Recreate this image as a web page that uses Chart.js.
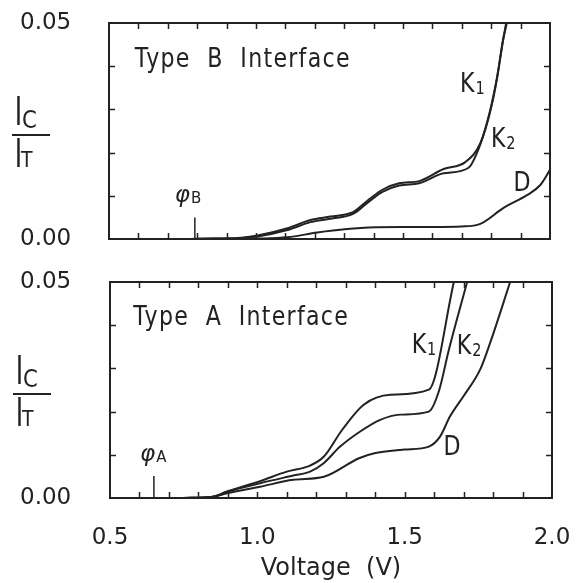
<!DOCTYPE html>
<html><head><meta charset="utf-8">
<script src="https://cdn.jsdelivr.net/npm/chart.js@4.4.0/dist/chart.umd.min.js"></script>
<style>
html,body{margin:0;padding:0;background:#fff;}
#wrap{position:relative;width:584px;height:583px;overflow:hidden;background:#fff;}
canvas{position:absolute;left:0;}
</style></head><body>
<div id="wrap">
<canvas id="cB" width="584" height="262" style="top:0px"></canvas>
<canvas id="cA" width="584" height="321" style="top:262px"></canvas>
</div>
<script>
// ---------- data ----------
const xTickStep = 0.1;
const yTickStep = 0.01;
const xLabelValues = [0.5, 1.0, 1.5, 2.0];
const yLabelValues = [0.00, 0.05];

// Type B interface (upper panel)
const typeB_K1_V = [0.78, 0.86, 0.95, 1.005, 1.107, 1.185, 1.253, 1.33, 1.378, 1.43, 1.487, 1.555, 1.638, 1.712, 1.763, 1.797, 1.82, 1.84, 1.851];
const typeB_K1_Y = [0.0, 0.0001, 0.0003, 0.0008, 0.0025, 0.0044, 0.0052, 0.0062, 0.0088, 0.0114, 0.0129, 0.0134, 0.0162, 0.0178, 0.0222, 0.0299, 0.0375, 0.046, 0.05];
const typeB_K2_V = [0.78, 0.86, 0.95, 1.005, 1.107, 1.185, 1.253, 1.33, 1.378, 1.43, 1.487, 1.555, 1.638, 1.723, 1.763, 1.797, 1.82, 1.84, 1.853];
const typeB_K2_Y = [0.0, 0.0001, 0.0002, 0.0006, 0.0021, 0.0039, 0.0047, 0.0058, 0.0083, 0.0109, 0.0124, 0.0129, 0.0152, 0.0165, 0.0219, 0.0296, 0.0372, 0.0458, 0.05];
const typeB_D_V = [0.9, 1.0, 1.107, 1.208, 1.31, 1.41, 1.5, 1.6, 1.7, 1.763, 1.842, 1.923, 1.967, 2.0];
const typeB_D_Y = [0.0, 0.0001, 0.0004, 0.0015, 0.0023, 0.0027, 0.0028, 0.0028, 0.0029, 0.0035, 0.0072, 0.0102, 0.0125, 0.016];
const phiB_V = [0.792, 0.792];
const phiB_Y = [0.0, 0.005];

// Type A interface (lower panel)
const typeA_K1_V = [0.75, 0.85, 0.897, 1.009, 1.1, 1.179, 1.226, 1.288, 1.361, 1.452, 1.582, 1.667];
const typeA_K1_Y = [0.0, 0.0003, 0.0015, 0.0039, 0.0061, 0.0075, 0.0096, 0.0158, 0.0216, 0.0239, 0.0251, 0.05];
const typeA_K2_V = [0.75, 0.85, 0.897, 1.009, 1.122, 1.179, 1.224, 1.281, 1.349, 1.417, 1.485, 1.582, 1.616, 1.65, 1.712];
const typeA_K2_Y = [0.0, 0.0003, 0.0014, 0.0034, 0.0052, 0.0061, 0.008, 0.0119, 0.0154, 0.0181, 0.0193, 0.02, 0.0247, 0.0343, 0.05];
const typeA_D_V = [0.75, 0.85, 0.897, 1.009, 1.122, 1.226, 1.345, 1.401, 1.5, 1.582, 1.62, 1.654, 1.699, 1.756, 1.79, 1.858];
const typeA_D_Y = [0.0, 0.0003, 0.0011, 0.0026, 0.0042, 0.0049, 0.0092, 0.0104, 0.0112, 0.0119, 0.0142, 0.0189, 0.0235, 0.0297, 0.0359, 0.05];
const phiA_V = [0.649, 0.649];
const phiA_Y = [0.0, 0.0051];

// text annotations (placed in data coordinates)
const notesB = [
  {t: 'Type  B  Interface', x: 0.588, y: 0.0398},
  {t: 'K', sub: '1', x: 1.694, y: 0.034},
  {t: 'K', sub: '2', x: 1.799, y: 0.0214},
  {t: 'D', x: 1.876, y: 0.011},
  {t: 'φ', sub: 'B', x: 0.724, y: 0.0085, phi: true}
];
const notesA = [
  {t: 'Type  A  Interface', x: 0.579, y: 0.0401},
  {t: 'K', sub: '1', x: 1.524, y: 0.0336},
  {t: 'K', sub: '2', x: 1.677, y: 0.0334},
  {t: 'D', x: 1.632, y: 0.010},
  {t: 'φ', sub: 'A', x: 0.602, y: 0.0086, phi: true}
];

// ---------- drawing ----------
const FONT = '"DejaVu Sans", "Liberation Sans", sans-serif';
const INK = '#222222';
const near = (a, b) => Math.abs(a - b) < 1e-6;
const pts = (xs, ys) => xs.map((v, i) => ({x: v, y: ys[i]}));

const paperPlugin = {
  id: 'paper',
  afterDatasetsDraw(chart, args, opts) {
    const {ctx, chartArea: {left, right, top, bottom}, scales: {x, y}} = chart;
    ctx.save();
    ctx.strokeStyle = INK;
    ctx.fillStyle = INK;
    // frame
    ctx.lineWidth = 2;
    ctx.strokeRect(left, top, right - left, bottom - top);
    // inward ticks
    ctx.lineWidth = 1.5;
    ctx.beginPath();
    x.ticks.forEach(t => {
      if (near(t.value, x.min) || near(t.value, x.max)) return;
      const p = Math.round(x.getPixelForValue(t.value)) + 0.5;
      ctx.moveTo(p, bottom); ctx.lineTo(p, bottom - 6);
      ctx.moveTo(p, top); ctx.lineTo(p, top + 6);
    });
    y.ticks.forEach(t => {
      if (near(t.value, y.min) || near(t.value, y.max)) return;
      const p = Math.round(y.getPixelForValue(t.value)) + 0.5;
      ctx.moveTo(left, p); ctx.lineTo(left + 6, p);
      ctx.moveTo(right, p); ctx.lineTo(right - 6, p);
    });
    ctx.stroke();
    // annotations
    ctx.textBaseline = 'alphabetic';
    ctx.textAlign = 'left';
    (opts.notes || []).forEach(n => {
      const px = x.getPixelForValue(n.x), py = y.getPixelForValue(n.y);
      ctx.save();
      ctx.translate(px, py);
      if (n.phi) {
        ctx.font = 'italic 23px ' + FONT;
        ctx.fillText(n.t, 0, 0);
        const w = ctx.measureText(n.t).width;
        ctx.font = '15px ' + FONT;
        ctx.fillText(n.sub, w + 1, 1);
      } else {
        ctx.scale(0.85, 1);
        ctx.font = '26px ' + FONT;
        ctx.letterSpacing = n.sub || n.t.length < 3 ? '0px' : '1.5px';
        ctx.fillText(n.t, 0, 0);
        const w = ctx.measureText(n.t).width;
        if (n.sub) {
          ctx.font = '17px ' + FONT;
          ctx.fillText(n.sub, w + 1, 2);
        }
      }
      ctx.restore();
    });
    // y-axis title: I_C over I_T
    const L = left, C = (top + bottom) / 2;
    ctx.font = '300 41px Roboto, ' + FONT;
    ctx.fillText('I', L - 96, C - 6);
    ctx.fillText('I', L - 96, C + 36);
    ctx.save();
    ctx.translate(L - 87, C - 3);
    ctx.scale(0.85, 1);
    ctx.font = '25px ' + FONT;
    ctx.fillText('C', 0, 0);
    ctx.restore();
    ctx.save();
    ctx.translate(L - 88, C + 36);
    ctx.scale(0.9, 1);
    ctx.font = '21px ' + FONT;
    ctx.fillText('T', 0, 0);
    ctx.restore();
    ctx.fillRect(L - 97, C + 3, 38, 2);
    ctx.restore();
  }
};

function lineDs(xs, ys, extra) {
  return Object.assign({
    data: pts(xs, ys),
    borderColor: INK,
    borderWidth: 2,
    pointRadius: 0,
    fill: false,
    cubicInterpolationMode: 'monotone'
  }, extra || {});
}

function makeChart(id, sets, notes, cfg) {
  const el = document.getElementById(id);
  return new Chart(el, {
    type: 'line',
    data: {datasets: sets},
    plugins: [paperPlugin],
    options: {
      responsive: false,
      animation: false,
      devicePixelRatio: 1,
      layout: {padding: cfg.padding},
      plugins: {legend: {display: false}, tooltip: {enabled: false}, paper: {notes: notes}},
      scales: {
        x: {
          type: 'linear', min: 0.5, max: 2.0,
          ticks: {
            display: cfg.xLabels, stepSize: xTickStep, autoSkip: false, maxRotation: 0,
            padding: 5.5, color: INK, font: {family: FONT, size: 23, lineHeight: 3},
            callback: v => xLabelValues.some(l => near(l, v)) ? v.toFixed(1) : ''
          },
          grid: {display: false, drawTicks: false},
          border: {display: false},
          title: {display: cfg.xLabels, text: 'Voltage  (V)', color: INK, font: {family: FONT, size: 24}, padding: {top: 0, bottom: 0}},
          afterFit: s => { s.height = cfg.xHeight; }
        },
        y: {
          type: 'linear', min: 0, max: 0.05,
          ticks: {
            stepSize: yTickStep, autoSkip: false, padding: 0, crossAlign: 'far', color: INK,
            font: {family: FONT, size: 23},
            callback: v => yLabelValues.some(l => near(l, v)) ? v.toFixed(2) : ''
          },
          grid: {display: false, drawTicks: false},
          border: {display: false},
          afterFit: s => { s.width = cfg.yWidth; }
        }
      }
    }
  });
}

makeChart('cB', [
  lineDs(typeB_K1_V, typeB_K1_Y),
  lineDs(typeB_K2_V, typeB_K2_Y),
  lineDs(typeB_D_V, typeB_D_Y),
  lineDs(phiB_V, phiB_Y, {cubicInterpolationMode: 'default', tension: 0, borderWidth: 1.5})
], notesB, {padding: {left: 20, right: 34, top: 23, bottom: 0}, xHeight: 23, yWidth: 89, xLabels: false});

makeChart('cA', [
  lineDs(typeA_K1_V, typeA_K1_Y),
  lineDs(typeA_K2_V, typeA_K2_Y),
  lineDs(typeA_D_V, typeA_D_Y),
  lineDs(phiA_V, phiA_Y, {cubicInterpolationMode: 'default', tension: 0, borderWidth: 1.5})
], notesA, {padding: {left: 20, right: 32, top: 20, bottom: 0}, xHeight: 85, yWidth: 90, xLabels: true});
</script>
</body></html>
